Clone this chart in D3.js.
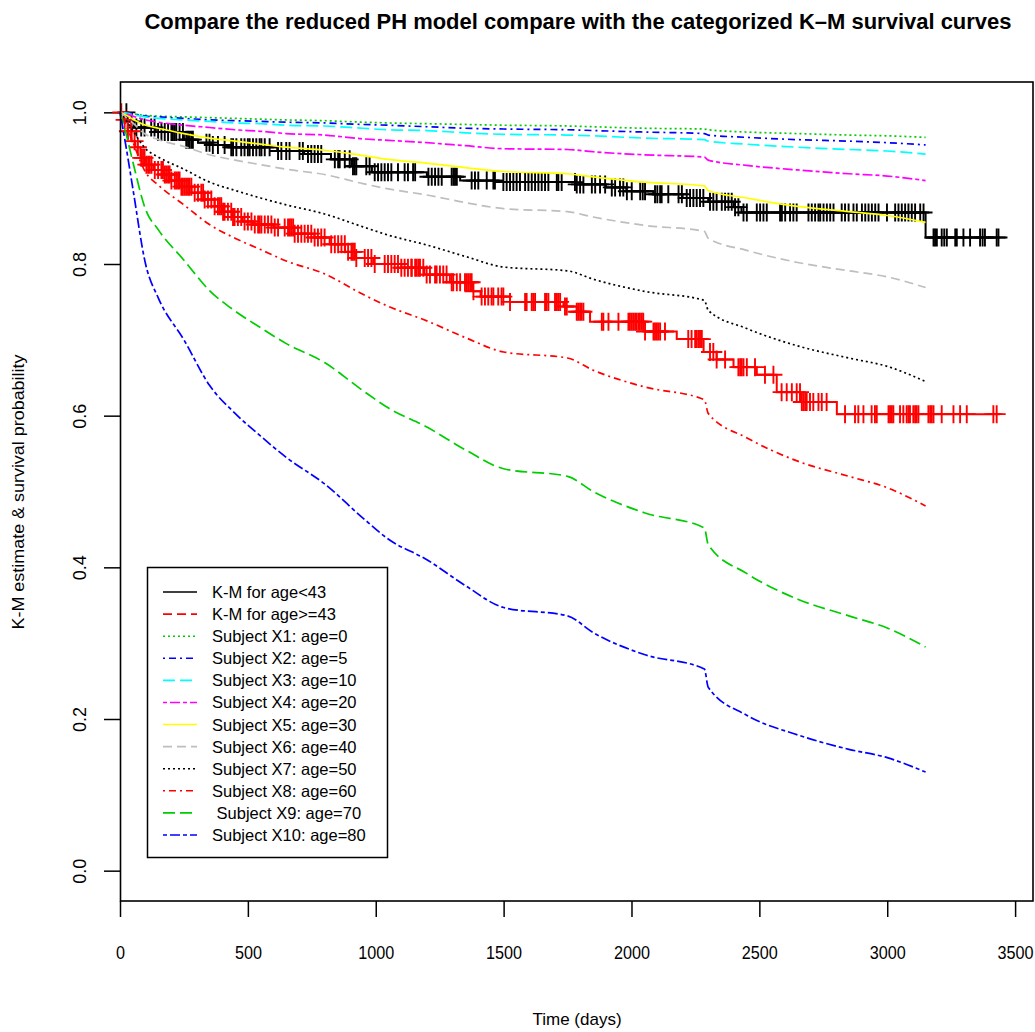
<!DOCTYPE html>
<html><head><meta charset="utf-8">
<script src="https://cdn.jsdelivr.net/npm/d3@7"></script>
<style>
body{margin:0;background:#fff}
text{font-family:"Liberation Sans",Arial,sans-serif;fill:#000}
</style>
</head><body>
<svg id="chart" width="1035" height="1032"></svg>
<script>
// ---------- data ----------
const chartTitle = "Compare the reduced PH model compare with the categorized K–M survival curves";
const xTitle = "Time (days)";
const yTitle = "K-M estimate & survival probability";
const xTicks = [0, 500, 1000, 1500, 2000, 2500, 3000, 3500];
const yTicks = [0.0, 0.2, 0.4, 0.6, 0.8, 1.0];

// predicted survival (PH model), read at these times
const timeGrid = [0,25,50,100,150,250,350,450,550,650,800,950,1050,1200,1350,1500,1750,1850,2050,2285,2300,2450,2650,2850,3000,3150];
const survX1  = [1,0.999,0.998,0.996,0.995,0.994,0.993,0.992,0.991,0.990,0.989,0.987,0.986,0.985,0.984,0.983,0.982,0.981,0.979,0.978,0.977,0.974,0.972,0.970,0.969,0.967];
const survX2  = [1,0.999,0.998,0.995,0.994,0.992,0.990,0.989,0.988,0.987,0.986,0.984,0.983,0.981,0.979,0.978,0.977,0.976,0.974,0.972,0.970,0.967,0.964,0.962,0.960,0.957];
const survX3  = [1,0.999,0.997,0.994,0.992,0.990,0.988,0.986,0.985,0.983,0.982,0.979,0.977,0.976,0.973,0.971,0.970,0.969,0.966,0.964,0.962,0.958,0.954,0.951,0.949,0.945];
const survX4  = [1,0.998,0.995,0.990,0.987,0.983,0.980,0.977,0.975,0.972,0.970,0.965,0.963,0.960,0.956,0.952,0.951,0.948,0.944,0.941,0.937,0.930,0.924,0.919,0.916,0.910];
const survX5  = [1,0.996,0.991,0.983,0.979,0.972,0.966,0.962,0.958,0.954,0.950,0.943,0.938,0.933,0.927,0.922,0.919,0.915,0.908,0.903,0.897,0.887,0.876,0.869,0.864,0.855];
const survX6  = [1,0.993,0.986,0.971,0.964,0.955,0.944,0.937,0.931,0.925,0.918,0.906,0.899,0.891,0.881,0.873,0.869,0.862,0.851,0.843,0.834,0.818,0.802,0.791,0.783,0.769];
const survX7  = [1,0.989,0.976,0.952,0.941,0.925,0.908,0.897,0.887,0.878,0.866,0.849,0.838,0.825,0.810,0.796,0.791,0.780,0.764,0.752,0.739,0.715,0.692,0.676,0.665,0.645];
const survX8  = [1,0.982,0.961,0.921,0.904,0.878,0.852,0.834,0.819,0.804,0.787,0.760,0.744,0.725,0.703,0.684,0.676,0.660,0.638,0.621,0.603,0.571,0.540,0.520,0.505,0.481];
const survX9  = [1,0.970,0.935,0.872,0.845,0.805,0.765,0.738,0.716,0.695,0.670,0.633,0.610,0.585,0.555,0.530,0.520,0.500,0.472,0.452,0.430,0.392,0.358,0.336,0.320,0.295];
const survX10 = [1,0.952,0.900,0.800,0.755,0.700,0.640,0.603,0.573,0.545,0.510,0.465,0.437,0.410,0.376,0.347,0.336,0.314,0.285,0.266,0.242,0.205,0.179,0.160,0.149,0.130];

// Kaplan-Meier, age < 43
const kmYoungTimes = [0,30,55,140,250,305,360,420,615,720,825,905,985,1200,1330,1480,1780,1900,1980,2085,2200,2300,2400,2430,3150];
const kmYoungSurv  = [1,0.988,0.980,0.974,0.964,0.960,0.957,0.954,0.949,0.945,0.938,0.929,0.921,0.915,0.910,0.908,0.905,0.901,0.896,0.892,0.887,0.882,0.875,0.868,0.835];
const kmYoungEnd = 3440;
const kmYoungCensor = [25,45,64,83,96,122,135,149,162,175,188,201,207,214,220,233,246,259,266,272,279,285,338,350,363,383,409,435,442,455,474,487,500,507,520,533,546,553,566,585,618,631,650,663,702,715,735,748,761,774,787,840,853,859,879,898,911,918,924,963,976,996,1009,1022,1035,1048,1061,1087,1113,1126,1146,
 1154,1206,1219,1232,1245,1258,1297,1304,1310,1317,1375,1388,1401,1434,1460,1466,1499,1512,1525,1538,1551,1564,1584,1597,1610,1623,1636,1649,1662,1675,1708,1714,1727,1779,1786,1799,1812,1845,1858,
 1877,1897,1923,1936,1955,1968,1982,2001,2034,2044,2053,2092,2101,2112,2118,2144,2184,2197,2216,2229,2242,2255,2268,2281,2307,2320,2333,2353,2366,2379,2392,2405,2418,2438,2451,2490,2503,2516,2529,2581,2588,2601,2620,2633,2646,2692,2705,2718,2731,2738,2751,2764,2777,2790,2822,2835,2849,2868,2881,2901,2914,2927,2940,2953,2966,2999,3031,3044,3057,3070,3083,3096,3109,3129,3142,3181,3187,3194,3213,3223,3233,3266,3272,3298,3324,3363,3373,3382,3428,3435];

// Kaplan-Meier, age >= 43
const kmOldTimes = [0,15,30,45,60,80,100,130,170,200,240,280,330,370,400,440,480,520,600,680,760,820,880,920,990,1100,1190,1290,1380,1410,1525,1734,1786,1838,2047,2177,2282,2333,2399,2490,2568,2660,2803];
const kmOldSurv  = [1,0.99,0.975,0.962,0.954,0.94,0.931,0.924,0.918,0.91,0.902,0.894,0.885,0.876,0.869,0.862,0.856,0.852,0.848,0.84,0.835,0.826,0.816,0.808,0.80,0.795,0.786,0.776,0.764,0.757,0.750,0.744,0.737,0.724,0.711,0.701,0.684,0.674,0.664,0.654,0.631,0.618,0.602];
const kmOldEnd = 3440;
const kmOldCensor = [5,18,31,44,57,70,83,90,96,103,110,116,123,136,149,162,168,175,181,188,194,201,214,220,227,233,240,246,253,259,266,272,279,292,305,318,325,331,344,357,370,383,390,396,403,409,422,435,442,448,461,474,487,500,514,527,540,546,553,566,579,592,605,618,644,657,664,670,677,683,696,709,722,735,748,761,774,787,800,826,840,853,866,879,892,905,911,918,924,957,970,983,996,1035,1048,1061,1074,1087,1100,1113,1126,1139,
 1141,1154,1160,1167,1173,1186,1199,1212,1232,1238,1251,1264,1277,1297,1303,1317,1330,1349,1356,1362,1369,1375,1382,1414,1427,1440,1453,1460,1479,1492,1499,1525,1584,1590,1610,1616,1623,1662,1668,1675,1701,1708,1714,1721,1740,1747,1786,1792,1799,1805,1812,1884,
 1890,1910,1949,1988,1994,2001,2007,2014,2020,2027,2033,2040,2046,2053,2086,2092,2099,2105,2112,2131,2222,2235,2249,2255,2262,2268,2275,2307,2320,2333,2366,2418,2425,2431,2438,2451,2483,2522,2555,2587,2607,2627,2646,2659,2666,2672,2679,2685,2698,2711,2731,2744,2763,2835,2874,2887,2907,2939,2952,2959,3005,3011,3018,3024,3050,3063,3076,3083,3089,3102,3109,3115,3122,3161,3168,3174,3181,3213,3259,3285,3311,3415,3428];

const legendLabels = ["K-M for age<43","K-M for age>=43","Subject X1: age=0","Subject X2: age=5","Subject X3: age=10","Subject X4: age=20","Subject X5: age=30","Subject X6: age=40","Subject X7: age=50","Subject X8: age=60"," Subject X9: age=70","Subject X10: age=80"];
const seriesColors = ["#000000","#FF0000","#00CD00","#0000FF","#00FFFF","#FF00FF","#FFFF00","#BEBEBE","#000000","#FF0000","#00CD00","#0000FF"];
const seriesDashes = [null,"9,5","2,3","2,4,7,4","12,5","4,3,10,3",null,"9,5","2,3","2,4,7,4","12,5","4,3,10,3"];

// ---------- drawing ----------
const svg = d3.select("#chart");
svg.append("rect").attr("width",1035).attr("height",1032).attr("fill","#fff");

const x = d3.scaleLinear().domain([0, 3570]).range([120, 1033]);
const y = d3.scaleLinear().domain([-0.04, 1.04]).range([901, 82]);

// title
svg.append("text").attr("x",578).attr("y",29).attr("text-anchor","middle")
  .attr("font-weight","bold").attr("font-size",22.5)
  .attr("textLength",867).attr("lengthAdjust","spacingAndGlyphs").text(chartTitle);

// axes
const gx = svg.append("g").attr("transform","translate(0,901)")
  .call(d3.axisBottom(x).tickValues(xTicks).tickSize(16).tickPadding(29).tickFormat(d3.format("d")));
gx.select(".domain").remove();
gx.selectAll("line").attr("stroke","#000").attr("stroke-width",1.5);
gx.selectAll("text").attr("font-size",18).attr("font-family","Liberation Sans, Arial, sans-serif")
  .attr("transform","scale(0.9,1)");

const gy = svg.append("g").attr("transform","translate(120,0)")
  .call(d3.axisLeft(y).tickValues(yTicks).tickSize(16).tickFormat(d3.format(".1f")));
gy.select(".domain").remove();
gy.selectAll("line").attr("stroke","#000").attr("stroke-width",1.5);
gy.selectAll("text").attr("font-size",18).attr("font-family","Liberation Sans, Arial, sans-serif")
  .attr("x",null).attr("dy","0.35em").attr("text-anchor","middle")
  .attr("transform","translate(-40,0) rotate(-90)");

svg.append("text").attr("x",577).attr("y",1025).attr("text-anchor","middle").attr("font-size",17).text(xTitle);
svg.append("text").attr("transform","translate(24,492) rotate(-90)").attr("text-anchor","middle")
  .attr("font-size",17).attr("textLength",275).attr("lengthAdjust","spacingAndGlyphs").text(yTitle);

const plot = svg.append("g");

// K-M curves
function stepValue(times, surv, t){ return surv[Math.max(0, d3.bisectRight(times, t) - 1)]; }
const stepLine = d3.line().x(d => x(d[0])).y(d => y(d[1])).curve(d3.curveStepAfter);
function drawKM(times, surv, endT, censor, color){
  const pts = times.map((t,i) => [t, surv[i]]);
  pts.push([endT, surv[surv.length-1]]);
  plot.append("path").attr("d", stepLine(pts)).attr("fill","none")
    .attr("stroke",color).attr("stroke-width",2);
  plot.append("g").selectAll("path").data(censor).join("path")
    .attr("transform", t => `translate(${x(t)},${y(stepValue(times, surv, t))})`)
    .attr("d","M-9,0H9M0,-9V9").attr("stroke",color).attr("stroke-width",1.9).attr("fill","none");
}
drawKM(kmYoungTimes, kmYoungSurv, kmYoungEnd, kmYoungCensor, seriesColors[0]);
drawKM(kmOldTimes, kmOldSurv, kmOldEnd, kmOldCensor, seriesColors[1]);

// PH predicted curves
const phSeries = [survX1,survX2,survX3,survX4,survX5,survX6,survX7,survX8,survX9,survX10];
const line = d3.line().x((d,i) => x(timeGrid[i])).y(d => y(d)).curve(d3.curveMonotoneX);
phSeries.forEach((s, k) => {
  plot.append("path").attr("d", line(s)).attr("fill","none")
    .attr("stroke", seriesColors[k+2]).attr("stroke-width",1.7)
    .attr("stroke-dasharray", seriesDashes[k+2]);
});

// box
svg.append("rect").attr("x",120.5).attr("y",82).attr("width",912.5).attr("height",819)
  .attr("fill","none").attr("stroke","#000").attr("stroke-width",1.6);

// legend
const lg = svg.append("g");
lg.append("rect").attr("x",147.5).attr("y",567.5).attr("width",240).attr("height",290)
  .attr("fill","#fff").attr("stroke","#000").attr("stroke-width",1.5);
const rowY = d3.scaleLinear().domain([0, legendLabels.length-1]).range([592, 835]);
legendLabels.forEach((lab, i) => {
  lg.append("line").attr("x1",163).attr("x2",197).attr("y1",rowY(i)).attr("y2",rowY(i))
    .attr("stroke",seriesColors[i]).attr("stroke-width",1.6).attr("stroke-dasharray",seriesDashes[i]);
  lg.append("text").attr("x",212).attr("y",rowY(i)+6).attr("font-size",16.5)
    .attr("xml:space","preserve").style("white-space","pre").text(lab);
});
</script>
</body></html>
